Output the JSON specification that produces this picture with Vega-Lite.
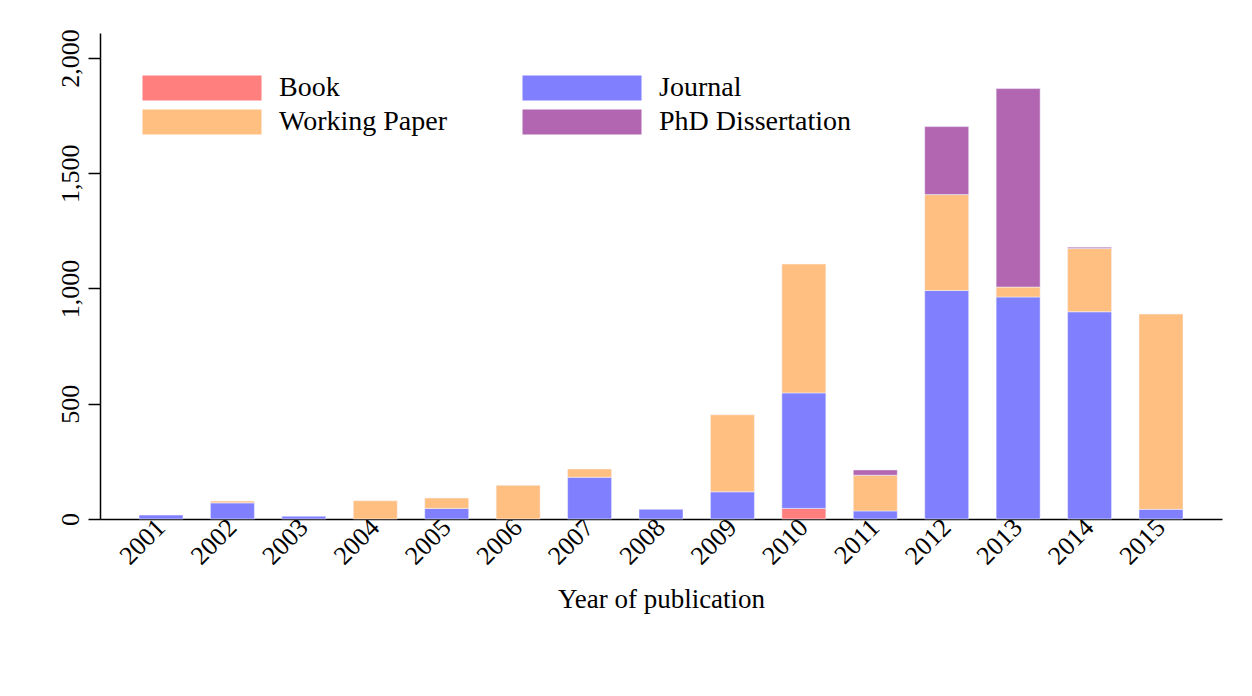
{
  "$schema": "https://vega.github.io/schema/vega-lite/v6.json",
  "width": 1122,
  "height": 486,
  "autosize": "none",
  "padding": {"left": 100, "top": 33, "right": 30, "bottom": 177},
  "background": "white",
  "config": {
    "view": {"stroke": null},
    "font": "Liberation Serif"
  },
  "datasets": {
    "types": [
      {"type": "Book", "rank": 1},
      {"type": "Journal", "rank": 2},
      {"type": "Working Paper", "rank": 3},
      {"type": "PhD Dissertation", "rank": 4}
    ]
  },
  "data": {
    "values": [
      {"year": "2001", "type": "Journal", "count": 17},
      {"year": "2002", "type": "Journal", "count": 70},
      {"year": "2002", "type": "Working Paper", "count": 8},
      {"year": "2003", "type": "Journal", "count": 12},
      {"year": "2004", "type": "Working Paper", "count": 79},
      {"year": "2005", "type": "Journal", "count": 46},
      {"year": "2005", "type": "Working Paper", "count": 45},
      {"year": "2006", "type": "Working Paper", "count": 146},
      {"year": "2007", "type": "Journal", "count": 181},
      {"year": "2007", "type": "Working Paper", "count": 36},
      {"year": "2008", "type": "Journal", "count": 42},
      {"year": "2009", "type": "Journal", "count": 118},
      {"year": "2009", "type": "Working Paper", "count": 334},
      {"year": "2010", "type": "Book", "count": 46},
      {"year": "2010", "type": "Journal", "count": 501},
      {"year": "2010", "type": "Working Paper", "count": 559},
      {"year": "2011", "type": "Journal", "count": 35},
      {"year": "2011", "type": "Working Paper", "count": 155},
      {"year": "2011", "type": "PhD Dissertation", "count": 23},
      {"year": "2012", "type": "Journal", "count": 991},
      {"year": "2012", "type": "Working Paper", "count": 416},
      {"year": "2012", "type": "PhD Dissertation", "count": 295},
      {"year": "2013", "type": "Journal", "count": 963},
      {"year": "2013", "type": "Working Paper", "count": 43},
      {"year": "2013", "type": "PhD Dissertation", "count": 861},
      {"year": "2014", "type": "Journal", "count": 899},
      {"year": "2014", "type": "Working Paper", "count": 274},
      {"year": "2014", "type": "PhD Dissertation", "count": 6},
      {"year": "2015", "type": "Journal", "count": 42},
      {"year": "2015", "type": "Working Paper", "count": 847}
    ]
  },
  "transform": [
    {"lookup": "type", "from": {"data": {"name": "types"}, "key": "type", "fields": ["rank"]}}
  ],
  "mark": {"type": "bar", "stroke": "#f4f4ff", "strokeWidth": 0.5},
  "encoding": {
    "x": {
      "field": "year",
      "type": "ordinal",
      "scale": {"paddingInner": 0.384, "paddingOuter": 0.546},
      "axis": {
        "title": "Year of publication",
        "titleFont": "Liberation Serif",
        "titleFontSize": 27,
        "titleFontWeight": "normal",
        "titleColor": "black",
        "titlePadding": 18,
        "labelAngle": -45,
        "labelAlign": "right",
        "labelBaseline": "middle",
        "labelFont": "Liberation Serif",
        "labelFontSize": 26,
        "labelColor": "black",
        "labelPadding": 4,
        "ticks": false,
        "domainColor": "black",
        "domainWidth": 1.5
      }
    },
    "y": {
      "field": "count",
      "type": "quantitative",
      "stack": "zero",
      "scale": {"domain": [0, 2108], "nice": false},
      "axis": {
        "title": null,
        "values": [0, 500, 1000, 1500, 2000],
        "format": ",d",
        "grid": false,
        "labelAngle": -90,
        "labelAlign": "center",
        "labelBaseline": "bottom",
        "labelFont": "Liberation Serif",
        "labelFontSize": 26,
        "labelColor": "black",
        "labelPadding": 5,
        "tickSize": 12,
        "tickColor": "black",
        "tickWidth": 1.5,
        "domainColor": "black",
        "domainWidth": 1.5
      }
    },
    "color": {
      "field": "type",
      "type": "nominal",
      "sort": ["Book", "Journal", "Working Paper", "PhD Dissertation"],
      "scale": {
        "domain": ["Book", "Journal", "Working Paper", "PhD Dissertation"],
        "range": ["#ff7f7f", "#8080ff", "#ffbf80", "#b266b2"]
      },
      "legend": {
        "title": null,
        "orient": "none",
        "legendX": 41,
        "legendY": 41,
        "columns": 2,
        "direction": "horizontal",
        "symbolType": "M-1,-1H8.52V1H-1Z",
        "symbolSize": 625,
        "symbolStrokeWidth": 0,
        "symbolOpacity": 1,
        "labelOffset": 110,
        "labelFont": "Liberation Serif",
        "labelFontSize": 28,
        "labelColor": "black",
        "labelLimit": 400,
        "columnPadding": 73,
        "rowPadding": 6
      }
    },
    "order": {"field": "rank", "type": "quantitative", "sort": "ascending"}
  }
}
